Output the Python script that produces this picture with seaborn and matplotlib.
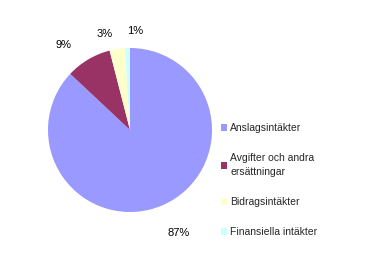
import matplotlib
matplotlib.use("Agg")
import matplotlib.pyplot as plt
import seaborn as sns
import numpy as np

categories = ["Anslagsintäkter", "Avgifter och andra\nersättningar", "Bidragsintäkter", "Finansiella intäkter"]
values = [87, 9, 3, 1]
pct_labels = ["87%", "9%", "3%", "1%"]

colors = ["#9999FF", "#993366", "#FFFFCC", "#CCFFFF"]
# label placement (radius in pie radii, angle in degrees)
label_polar = [(1.39, -65), (1.31, 128), (1.21, 105), (1.21, 87)]

sns.set_style("white")
plt.rcParams["font.family"] = ["Liberation Sans", "DejaVu Sans"]

fig = plt.figure(figsize=(3.83, 2.61), dpi=100)
r_px = 82
cx, cy = 130, 130
ax = fig.add_axes([(cx - r_px) / 383, 1 - (cy + r_px) / 261, 2 * r_px / 383, 2 * r_px / 261])
wedges, _ = ax.pie(values, colors=colors, startangle=90, counterclock=False,
                   wedgeprops=dict(linewidth=0))
ax.set_xlim(-1, 1)
ax.set_ylim(-1, 1)
ax.set_aspect("auto")
for lab, (r, a) in zip(pct_labels, label_polar):
    ax.text(r * np.cos(np.radians(a)), r * np.sin(np.radians(a)), lab,
            ha="center", va="center", fontsize=8, color="#000000", clip_on=False)

leg = fig.legend(wedges, categories, loc="upper left", bbox_to_anchor=(0.565, 0.545),
                 frameon=False, fontsize=7.5, handlelength=0.6, handleheight=0.6,
                 handletextpad=0.35, labelspacing=1.95, borderaxespad=0)
for t in leg.get_texts():
    t.set_linespacing(1.45)
fig.savefig("out.png", dpi=100, facecolor="white")
